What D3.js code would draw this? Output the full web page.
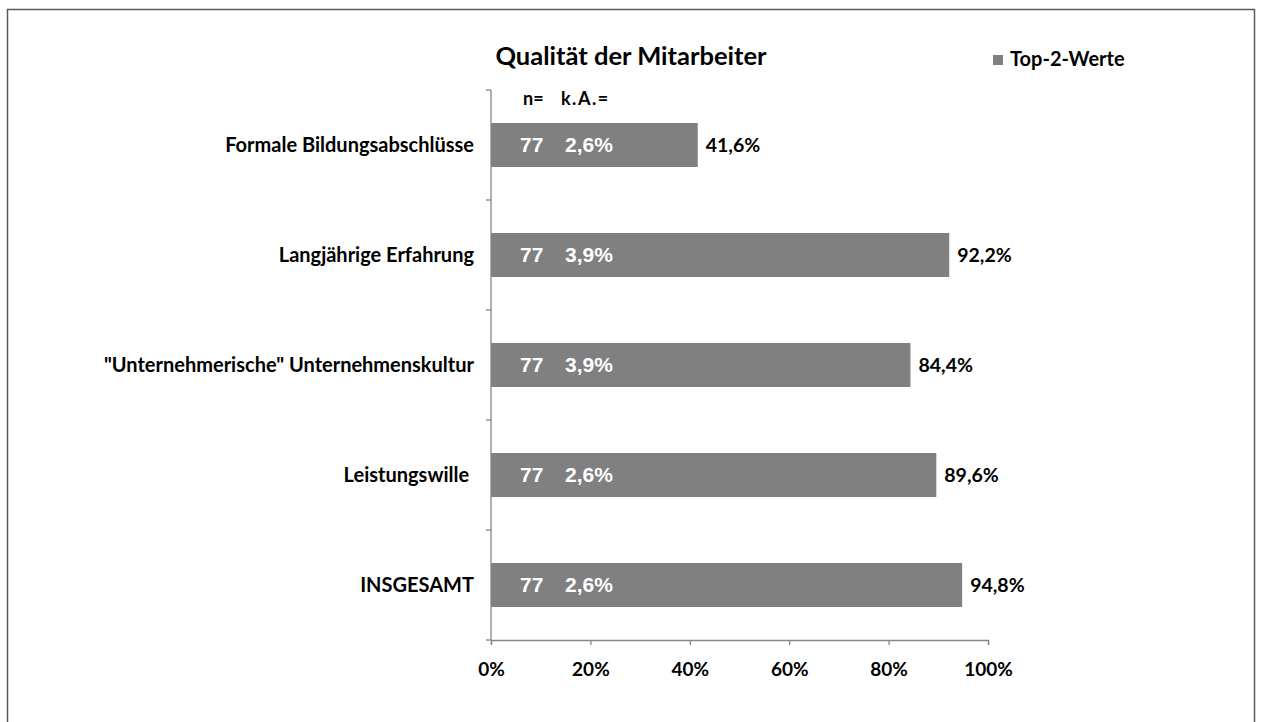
<!DOCTYPE html>
<html>
<head>
<meta charset="utf-8">
<script src="https://cdn.jsdelivr.net/npm/d3@7"></script>
<style>
  body { margin: 0; background: #fff; }
  svg { display: block; }
  text { white-space: pre; }
</style>
</head>
<body>
<script>
// data
var categories = ["Formale Bildungsabschlüsse", "Langjährige Erfahrung", "\"Unternehmerische\" Unternehmenskultur", "Leistungswille ", "INSGESAMT"]
var top2 = [41.6, 92.2, 84.4, 89.6, 94.8]
var nValues = [77, 77, 77, 77, 77]
var kaValues = ["2,6%", "3,9%", "3,9%", "2,6%", "2,6%"]
var xTicks = [0, 20, 40, 60, 80, 100]
var title = "Qualität der Mitarbeiter"
var legendLabel = "Top-2-Werte"

var svg_w = 1262, svg_h = 722
var font = "Lato, 'Open Sans', 'DejaVu Sans', sans-serif"
var svg = d3.select("body").append("svg")
    .attr("width", svg_w).attr("height", svg_h)
    .style("font-family", font)

// outer frame (runs past the bottom of the window)
svg.append("rect")
    .attr("x", 7.5).attr("y", 9.5)
    .attr("width", 1247).attr("height", 730)
    .attr("fill", "none").attr("stroke", "#595959").attr("stroke-width", 1.5)

var x0 = 491, x1 = 988, yTop = 90, yBot = 640
var xscale = d3.scaleLinear().domain([0, 100]).range([x0, x1])
var yscale = d3.scaleBand().domain(categories).range([yTop, yBot]).paddingInner(0.6).paddingOuter(0.3)
var mid = d => yscale(d) + yscale.bandwidth() / 2

// title
svg.append("text")
    .attr("x", 631).attr("y", 65)
    .attr("text-anchor", "middle")
    .attr("font-size", 25.5).attr("font-weight", "bold")
    .text(title)

// legend
svg.append("rect").attr("x", 993).attr("y", 55).attr("width", 10).attr("height", 10).attr("fill", "#808080")
svg.append("text").attr("x", 1010).attr("y", 66)
    .attr("font-size", 20).attr("font-weight", "bold").text(legendLabel)

// column headers
svg.append("text").attr("x", 523).attr("y", 105).attr("font-size", 18).attr("font-weight", "bold").text("n=")
svg.append("text").attr("x", 561).attr("y", 105).attr("font-size", 18).attr("font-weight", "bold")
    .attr("letter-spacing", 1.5).text("k.A.=")

// bars
svg.selectAll("rect.bar")
    .data(categories)
    .enter()
    .append("rect")
    .attr("class", "bar")
    .attr("x", x0)
    .attr("y", d => yscale(d))
    .attr("width", (d, i) => xscale(top2[i]) - x0)
    .attr("height", yscale.bandwidth())
    .attr("fill", "#808080")

// values at bar end
svg.selectAll("text.val")
    .data(categories)
    .enter()
    .append("text")
    .attr("class", "val")
    .attr("x", (d, i) => xscale(top2[i]) + 8)
    .attr("y", d => mid(d) + 7)
    .attr("font-size", 19.5).attr("font-weight", "bold")
    .text((d, i) => top2[i].toFixed(1).replace(".", ",") + "%")

// n and k.A. inside bars
svg.selectAll("text.n")
    .data(categories)
    .enter()
    .append("text")
    .attr("x", 520)
    .attr("y", d => mid(d) + 7)
    .attr("font-family", "'Liberation Sans', Arial, sans-serif")
    .attr("font-size", 21).attr("font-weight", "bold").attr("fill", "#fff")
    .text((d, i) => nValues[i])
svg.selectAll("text.ka")
    .data(categories)
    .enter()
    .append("text")
    .attr("x", 565)
    .attr("y", d => mid(d) + 7)
    .attr("font-family", "'Liberation Sans', Arial, sans-serif")
    .attr("font-size", 21).attr("font-weight", "bold").attr("fill", "#fff")
    .text((d, i) => kaValues[i])

// category labels
svg.selectAll("text.cat")
    .data(categories)
    .enter()
    .append("text")
    .attr("x", 474)
    .attr("y", d => mid(d) + 7)
    .attr("text-anchor", "end")
    .attr("font-size", 20).attr("font-weight", "bold")
    .text(d => d)

// y axis line with boundary ticks
var axisColor = "#868686"
svg.append("line").attr("x1", x0).attr("x2", x0).attr("y1", yTop).attr("y2", yBot)
    .attr("stroke", axisColor).attr("stroke-width", 1.3)
var step = (yBot - yTop) / categories.length
svg.selectAll("line.ytick")
    .data(d3.range(categories.length + 1))
    .enter()
    .append("line")
    .attr("x1", x0 - 5).attr("x2", x0)
    .attr("y1", i => yTop + i * step).attr("y2", i => yTop + i * step)
    .attr("stroke", axisColor).attr("stroke-width", 1.3)

// x axis
var xAxis = svg.append("g")
    .attr("transform", "translate(0," + yBot + ")")
    .call(d3.axisBottom(xscale).tickValues(xTicks).tickSize(5).tickPadding(18).tickFormat(d => d + "%"))
xAxis.select(".domain").attr("stroke", axisColor).attr("stroke-width", 1.3)
xAxis.selectAll(".tick line").attr("stroke", axisColor).attr("stroke-width", 1.3)
xAxis.selectAll(".tick text")
    .attr("font-family", font).attr("font-size", 19).attr("font-weight", "bold").attr("fill", "#000")
</script>
</body>
</html>
